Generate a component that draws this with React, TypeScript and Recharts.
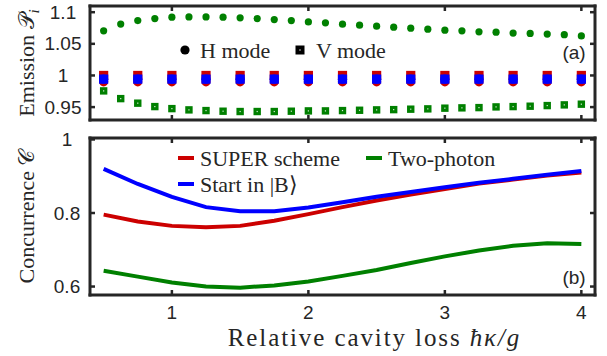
import React from "react";
import { ScatterChart, Scatter, LineChart, Line, XAxis, YAxis, Legend } from "recharts";

// relative cavity loss grids
const kappaFine = [0.5, 0.625, 0.75, 0.875, 1, 1.125, 1.25, 1.375, 1.5, 1.625, 1.75, 1.875, 2, 2.125, 2.25, 2.375, 2.5, 2.625, 2.75, 2.875, 3, 3.125, 3.25, 3.375, 3.5, 3.625, 3.75, 3.875, 4];
const kappa = [0.5, 0.75, 1, 1.25, 1.5, 1.75, 2, 2.25, 2.5, 2.75, 3, 3.25, 3.5, 3.75, 4];

// (a) emission P_i
const twoPhotonH = [1.0705, 1.0812, 1.0867, 1.09, 1.0921, 1.0926, 1.0926, 1.0921, 1.0911, 1.09, 1.0884, 1.0868, 1.0847, 1.0832, 1.0811, 1.0795, 1.0779, 1.0763, 1.0747, 1.0732, 1.0716, 1.0705, 1.069, 1.0685, 1.067, 1.0665, 1.0655, 1.0645, 1.0625];
const twoPhotonV = [0.9756, 0.9634, 0.9562, 0.9508, 0.9476, 0.9456, 0.9445, 0.9435, 0.943, 0.943, 0.943, 0.9435, 0.944, 0.944, 0.9445, 0.945, 0.9456, 0.946, 0.9467, 0.9472, 0.9483, 0.9488, 0.9492, 0.9503, 0.9508, 0.9514, 0.9524, 0.9535, 0.9546];
const superH = [0.99, 0.99, 0.99, 0.99, 0.99, 0.99, 0.99, 0.99, 0.99, 0.99, 0.99, 0.99, 0.99, 0.99, 0.99];
const superV = [1.0, 1.0, 1.0, 1.0, 1.0, 1.0, 1.0, 1.0, 1.0, 1.0, 1.0, 1.0, 1.0, 1.0, 1.0];
const startH = [0.9942, 0.9942, 0.9942, 0.9942, 0.9942, 0.9942, 0.9942, 0.9942, 0.9942, 0.9942, 0.9942, 0.9942, 0.9942, 0.9942, 0.9942];
const startV = [0.9942, 0.9942, 0.9942, 0.9942, 0.9942, 0.9942, 0.9942, 0.9942, 0.9942, 0.9942, 0.9942, 0.9942, 0.9942, 0.9942, 0.9942];

// (b) concurrence C
const superC = [0.7955, 0.777, 0.765, 0.761, 0.765, 0.779, 0.797, 0.816, 0.834, 0.85, 0.865, 0.88, 0.891, 0.902, 0.91];
const twoPhotonC = [0.6427, 0.627, 0.611, 0.6, 0.597, 0.603, 0.614, 0.629, 0.645, 0.664, 0.682, 0.698, 0.711, 0.718, 0.716];
const startC = [0.92, 0.879, 0.8436, 0.816, 0.805, 0.805, 0.815, 0.829, 0.844, 0.857, 0.87, 0.882, 0.893, 0.904, 0.914];

const xTicks = [1, 2, 3, 4];
const emissionTicks = [0.95, 1, 1.05, 1.1];
const concTicks = [0.6, 0.8, 1];

const INK = "#262626";
const RED = "#cc0000";
const GREEN = "#008000";
const BLUE = "#0000ff";
const SANS = "'Liberation Sans', Arial, sans-serif";
const SERIF = "'Liberation Serif', 'Times New Roman', serif";

const pts = (xs: number[], ys: number[]) => xs.map((x, i) => ({ x, y: ys[i] }));
const concRows = kappa.map((k, i) => ({ k, superC: superC[i], twoPhotonC: twoPhotonC[i], startC: startC[i] }));

const axisLine = { stroke: INK, strokeWidth: 3, strokeLinecap: "square" as const };
const tickLine = { stroke: INK, strokeWidth: 2.5 };
const blank = () => "";

const dotShape = (color: string, r: number) => (p: any) => <circle cx={p.cx} cy={p.cy} r={r} fill={color} />;
const squareShape = (color: string, s: number, pip = false) => (p: any) => (
  <g>
    <rect x={p.cx - s / 2} y={p.cy - s / 2} width={s} height={s} fill={color} />
    {pip && <rect x={p.cx - 0.6} y={p.cy - 0.6} width={1.2} height={1.2} fill="#fff" opacity={0.85} />}
  </g>
);

function YTick({ y, payload, cx }: any) {
  return (
    <text x={cx} y={y} textAnchor="middle" dominantBaseline="central" fill={INK} fontSize={19} fontFamily={SANS}>
      {String(payload.value)}
    </text>
  );
}

function YTitle({ viewBox, children }: any) {
  const cy = viewBox ? viewBox.y + viewBox.height / 2 : 60;
  return (
    <text x={34} y={cy} transform={`rotate(-90 34 ${cy})`} textAnchor="middle" fill={INK} fontSize={22} fontFamily={SERIF}>
      {children}
    </text>
  );
}

function XTitle({ viewBox }: any) {
  const x = viewBox ? viewBox.x + viewBox.width / 2 + 32 : 375;
  const y = viewBox ? viewBox.y + viewBox.height - 10 : 221;
  return (
    <text x={x} y={y} textAnchor="middle" fill={INK} fontSize={25} fontFamily={SERIF} letterSpacing={1.9}>
      Relative cavity loss <tspan fontStyle="italic">ħκ/g</tspan>
    </text>
  );
}

function TopLegend() {
  return (
    <svg width={607} height={125} style={{ display: "block" }}>
      <circle cx={185} cy={50} r={4.6} fill="#000" />
      <text x={200} y={50} dominantBaseline="central" fontSize={22} fontFamily={SERIF} fill={INK}>H mode</text>
      <rect x={295.5} y={45.5} width={9} height={9} fill="#000" />
      <rect x={299.4} y={49.4} width={1.2} height={1.2} fill="#fff" />
      <text x={316} y={50} dominantBaseline="central" fontSize={22} fontFamily={SERIF} fill={INK}>V mode</text>
      <text x={574} y={52} textAnchor="middle" dominantBaseline="central" fontSize={19} fontFamily={SANS} fill={INK}>(a)</text>
    </svg>
  );
}

function BottomLegend() {
  const row = (x: number, y: number, color: string, label: React.ReactNode) => (
    <g>
      <line x1={x} x2={x + 16} y1={y} y2={y} stroke={color} strokeWidth={4} />
      <text x={x + 22} y={y} dominantBaseline="central" fontSize={22} fontFamily={SERIF} fill={INK}>{label}</text>
    </g>
  );
  return (
    <svg width={607} height={231} style={{ display: "block" }}>
      {row(178, 33, RED, "SUPER scheme")}
      {row(366, 33, GREEN, "Two-photon")}
      {row(178, 59, BLUE, "Start in |B⟩")}
      <text x={574} y={152} textAnchor="middle" dominantBaseline="central" fontSize={19} fontFamily={SANS} fill={INK}>(b)</text>
    </svg>
  );
}

const legendWrap = { position: "absolute" as const, left: 0, top: 0, pointerEvents: "none" as const };

export default function App() {
  return (
    <div style={{ position: "absolute", left: 0, top: 0, width: 607, height: 356, background: "#fff" }}>
      <div style={{ position: "absolute", left: 0, top: 0 }}>
        <ScatterChart width={607} height={125} margin={{ top: 5, right: 11, bottom: 0, left: 0 }}>
          <XAxis type="number" dataKey="x" domain={[0.4, 4.1]} ticks={xTicks} allowDataOverflow height={5}
            axisLine={axisLine} tickLine={tickLine} tickSize={-5} tickFormatter={blank} />
          <XAxis xAxisId="top" orientation="top" type="number" dataKey="x" domain={[0.4, 4.1]} ticks={xTicks} allowDataOverflow height={1}
            axisLine={axisLine} tickLine={tickLine} tickSize={-5} tickFormatter={blank} />
          <YAxis type="number" dataKey="y" domain={[0.9296, 1.1098]} ticks={emissionTicks} allowDataOverflow width={90}
            axisLine={axisLine} tickLine={tickLine} tickSize={-5}
            tick={(p: any) => <YTick {...p} cx={63} />}
            label={<YTitle>Emission 𝒫<tspan dy={5} fontSize={15} fontStyle="italic">i</tspan></YTitle>} />
          <YAxis yAxisId="right" orientation="right" type="number" dataKey="y" domain={[0.9296, 1.1098]} ticks={emissionTicks} allowDataOverflow width={1}
            axisLine={axisLine} tickLine={tickLine} tickSize={-5} tickFormatter={blank} />
          <Scatter data={pts(kappaFine, twoPhotonH)} shape={dotShape(GREEN, 3.6)} isAnimationActive={false} />
          <Scatter data={pts(kappaFine, twoPhotonV)} shape={squareShape(GREEN, 7.4, true)} isAnimationActive={false} />
          <Scatter data={pts(kappa, superH)} shape={dotShape(RED, 4.6)} isAnimationActive={false} />
          <Scatter data={pts(kappa, superV)} shape={squareShape(RED, 9.2)} isAnimationActive={false} />
          <Scatter data={pts(kappa, startH)} shape={dotShape(BLUE, 4.6)} isAnimationActive={false} />
          <Scatter data={pts(kappa, startV)} shape={squareShape(BLUE, 9.2)} isAnimationActive={false} />
          <Legend layout="horizontal" verticalAlign="middle" align="center" content={() => <TopLegend />} wrapperStyle={legendWrap} />
        </ScatterChart>
      </div>
      <div style={{ position: "absolute", left: 0, top: 125 }}>
        <LineChart width={607} height={231} data={concRows} margin={{ top: 12, right: 11, bottom: 0, left: 0 }}>
          <XAxis type="number" dataKey="k" domain={[0.4, 4.1]} ticks={xTicks} allowDataOverflow height={61}
            axisLine={axisLine} tickLine={tickLine} tickSize={-5} tickMargin={16}
            tick={{ fill: INK, fontSize: 19, fontFamily: SANS }} label={<XTitle />} />
          <XAxis xAxisId="top" orientation="top" type="number" dataKey="k" domain={[0.4, 4.1]} ticks={xTicks} allowDataOverflow height={1}
            axisLine={axisLine} tickLine={tickLine} tickSize={-5} tickFormatter={blank} />
          <YAxis type="number" domain={[0.577, 1.004]} ticks={concTicks} allowDataOverflow width={90}
            axisLine={axisLine} tickLine={tickLine} tickSize={-5}
            tick={(p: any) => <YTick {...p} cx={67} />}
            label={<YTitle>Concurrence 𝒞</YTitle>} />
          <YAxis yAxisId="right" orientation="right" type="number" domain={[0.577, 1.004]} ticks={concTicks} allowDataOverflow width={1}
            axisLine={axisLine} tickLine={tickLine} tickSize={-5} tickFormatter={blank} />
          <Line dataKey="superC" stroke={RED} strokeWidth={4} dot={false} isAnimationActive={false} />
          <Line dataKey="twoPhotonC" stroke={GREEN} strokeWidth={4} dot={false} isAnimationActive={false} />
          <Line dataKey="startC" stroke={BLUE} strokeWidth={4} dot={false} isAnimationActive={false} />
          <Legend layout="horizontal" verticalAlign="middle" align="center" content={() => <BottomLegend />} wrapperStyle={legendWrap} />
        </LineChart>
      </div>
    </div>
  );
}
